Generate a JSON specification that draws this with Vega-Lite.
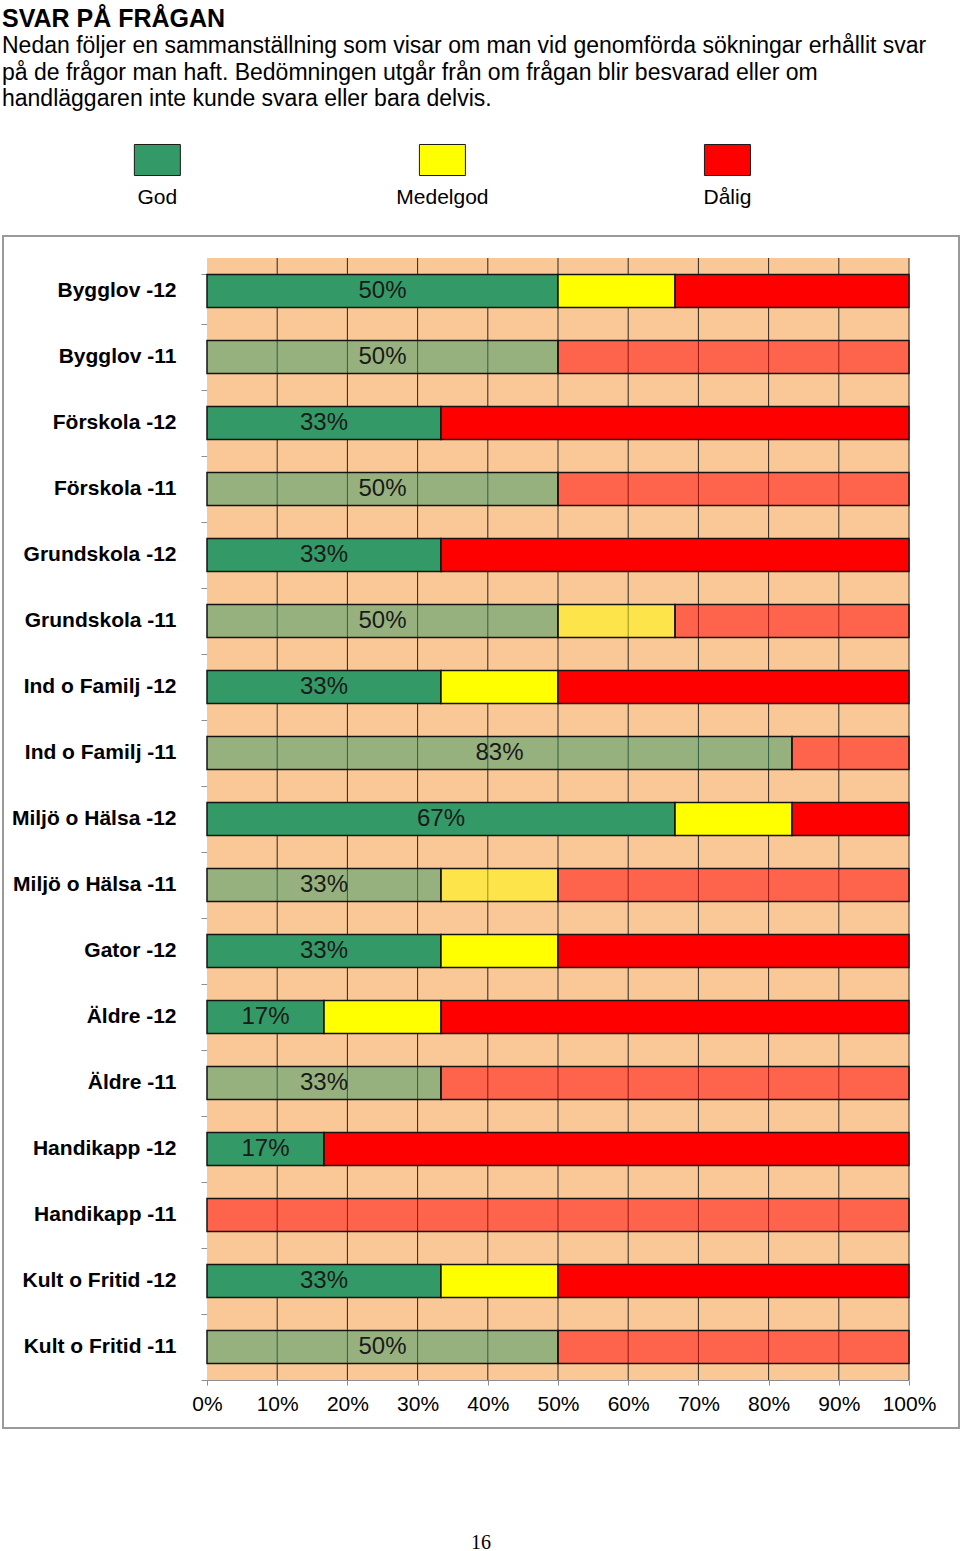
{
  "$schema": "https://vega.github.io/schema/vega-lite/v6.json",
  "padding": {"left": 2, "top": 7, "right": 0, "bottom": 0},
  "background": "white",
  "datasets": {
    "svar": [
      {"avd": "Bygglov -12", "ar": "-12", "svar": "God", "andel": 0.5, "ordning": 1},
      {"avd": "Bygglov -12", "ar": "-12", "svar": "Medelgod", "andel": 0.1667, "ordning": 2},
      {"avd": "Bygglov -12", "ar": "-12", "svar": "Dålig", "andel": 0.3333, "ordning": 3},
      {"avd": "Bygglov -11", "ar": "-11", "svar": "God", "andel": 0.5, "ordning": 1},
      {"avd": "Bygglov -11", "ar": "-11", "svar": "Medelgod", "andel": 0, "ordning": 2},
      {"avd": "Bygglov -11", "ar": "-11", "svar": "Dålig", "andel": 0.5, "ordning": 3},
      {"avd": "Förskola -12", "ar": "-12", "svar": "God", "andel": 0.3333, "ordning": 1},
      {"avd": "Förskola -12", "ar": "-12", "svar": "Medelgod", "andel": 0, "ordning": 2},
      {"avd": "Förskola -12", "ar": "-12", "svar": "Dålig", "andel": 0.6667, "ordning": 3},
      {"avd": "Förskola -11", "ar": "-11", "svar": "God", "andel": 0.5, "ordning": 1},
      {"avd": "Förskola -11", "ar": "-11", "svar": "Medelgod", "andel": 0, "ordning": 2},
      {"avd": "Förskola -11", "ar": "-11", "svar": "Dålig", "andel": 0.5, "ordning": 3},
      {"avd": "Grundskola -12", "ar": "-12", "svar": "God", "andel": 0.3333, "ordning": 1},
      {"avd": "Grundskola -12", "ar": "-12", "svar": "Medelgod", "andel": 0, "ordning": 2},
      {"avd": "Grundskola -12", "ar": "-12", "svar": "Dålig", "andel": 0.6667, "ordning": 3},
      {"avd": "Grundskola -11", "ar": "-11", "svar": "God", "andel": 0.5, "ordning": 1},
      {"avd": "Grundskola -11", "ar": "-11", "svar": "Medelgod", "andel": 0.1667, "ordning": 2},
      {"avd": "Grundskola -11", "ar": "-11", "svar": "Dålig", "andel": 0.3333, "ordning": 3},
      {"avd": "Ind o Familj -12", "ar": "-12", "svar": "God", "andel": 0.3333, "ordning": 1},
      {"avd": "Ind o Familj -12", "ar": "-12", "svar": "Medelgod", "andel": 0.1667, "ordning": 2},
      {"avd": "Ind o Familj -12", "ar": "-12", "svar": "Dålig", "andel": 0.5, "ordning": 3},
      {"avd": "Ind o Familj -11", "ar": "-11", "svar": "God", "andel": 0.8333, "ordning": 1},
      {"avd": "Ind o Familj -11", "ar": "-11", "svar": "Medelgod", "andel": 0, "ordning": 2},
      {"avd": "Ind o Familj -11", "ar": "-11", "svar": "Dålig", "andel": 0.1667, "ordning": 3},
      {"avd": "Miljö o Hälsa -12", "ar": "-12", "svar": "God", "andel": 0.6667, "ordning": 1},
      {"avd": "Miljö o Hälsa -12", "ar": "-12", "svar": "Medelgod", "andel": 0.1667, "ordning": 2},
      {"avd": "Miljö o Hälsa -12", "ar": "-12", "svar": "Dålig", "andel": 0.1666, "ordning": 3},
      {"avd": "Miljö o Hälsa -11", "ar": "-11", "svar": "God", "andel": 0.3333, "ordning": 1},
      {"avd": "Miljö o Hälsa -11", "ar": "-11", "svar": "Medelgod", "andel": 0.1667, "ordning": 2},
      {"avd": "Miljö o Hälsa -11", "ar": "-11", "svar": "Dålig", "andel": 0.5, "ordning": 3},
      {"avd": "Gator -12", "ar": "-12", "svar": "God", "andel": 0.3333, "ordning": 1},
      {"avd": "Gator -12", "ar": "-12", "svar": "Medelgod", "andel": 0.1667, "ordning": 2},
      {"avd": "Gator -12", "ar": "-12", "svar": "Dålig", "andel": 0.5, "ordning": 3},
      {"avd": "Äldre -12", "ar": "-12", "svar": "God", "andel": 0.1667, "ordning": 1},
      {"avd": "Äldre -12", "ar": "-12", "svar": "Medelgod", "andel": 0.1667, "ordning": 2},
      {"avd": "Äldre -12", "ar": "-12", "svar": "Dålig", "andel": 0.6666, "ordning": 3},
      {"avd": "Äldre -11", "ar": "-11", "svar": "God", "andel": 0.3333, "ordning": 1},
      {"avd": "Äldre -11", "ar": "-11", "svar": "Medelgod", "andel": 0, "ordning": 2},
      {"avd": "Äldre -11", "ar": "-11", "svar": "Dålig", "andel": 0.6667, "ordning": 3},
      {"avd": "Handikapp -12", "ar": "-12", "svar": "God", "andel": 0.1667, "ordning": 1},
      {"avd": "Handikapp -12", "ar": "-12", "svar": "Medelgod", "andel": 0, "ordning": 2},
      {"avd": "Handikapp -12", "ar": "-12", "svar": "Dålig", "andel": 0.8333, "ordning": 3},
      {"avd": "Handikapp -11", "ar": "-11", "svar": "God", "andel": 0, "ordning": 1},
      {"avd": "Handikapp -11", "ar": "-11", "svar": "Medelgod", "andel": 0, "ordning": 2},
      {"avd": "Handikapp -11", "ar": "-11", "svar": "Dålig", "andel": 1, "ordning": 3},
      {"avd": "Kult o Fritid -12", "ar": "-12", "svar": "God", "andel": 0.3333, "ordning": 1},
      {"avd": "Kult o Fritid -12", "ar": "-12", "svar": "Medelgod", "andel": 0.1667, "ordning": 2},
      {"avd": "Kult o Fritid -12", "ar": "-12", "svar": "Dålig", "andel": 0.5, "ordning": 3},
      {"avd": "Kult o Fritid -11", "ar": "-11", "svar": "God", "andel": 0.5, "ordning": 1},
      {"avd": "Kult o Fritid -11", "ar": "-11", "svar": "Medelgod", "andel": 0, "ordning": 2},
      {"avd": "Kult o Fritid -11", "ar": "-11", "svar": "Dålig", "andel": 0.5, "ordning": 3}
    ],
    "rutnat": [
      {"t": 0.1}, {"t": 0.2}, {"t": 0.3}, {"t": 0.4}, {"t": 0.5},
      {"t": 0.6}, {"t": 0.7}, {"t": 0.8}, {"t": 0.9}, {"t": 1.0}
    ],
    "forklaring": [{"svar": "God"}, {"svar": "Medelgod"}, {"svar": "Dålig"}],
    "sidfot": [{"sida": "16"}]
  },
  "title": {
    "text": "SVAR PÅ FRÅGAN",
    "subtitle": [
      "Nedan följer en sammanställning som visar om man vid genomförda sökningar erhållit svar",
      "på de frågor man haft. Bedömningen utgår från om frågan blir besvarad eller om",
      "handläggaren inte kunde svara eller bara delvis."
    ],
    "anchor": "start",
    "font": "Liberation Sans",
    "fontSize": 25,
    "fontWeight": "bold",
    "color": "black",
    "subtitleFont": "Liberation Sans",
    "subtitleFontSize": 23,
    "subtitleColor": "black",
    "subtitleLineHeight": 26.5,
    "subtitlePadding": 3,
    "offset": 19
  },
  "config": {
    "view": {"stroke": null},
    "font": "Liberation Sans",
    "axisX": {
      "offset": -48,
      "grid": false,
      "domainColor": "#8c8c8c",
      "tickColor": "#8c8c8c",
      "tickSize": 5,
      "labelFontSize": 21,
      "labelColor": "black",
      "labelPadding": 8,
      "labelFlush": false
    },
    "axisY": {
      "offset": -204,
      "grid": false,
      "domainColor": "#8c8c8c",
      "tickColor": "#8c8c8c",
      "tickSize": 6,
      "bandPosition": 1.5,
      "tickExtra": true,
      "labelFontSize": 21,
      "labelFontWeight": "bold",
      "labelColor": "black",
      "labelPadding": 25
    }
  },
  "spacing": 104,
  "vconcat": [
    {
      "spacing": 16,
      "vconcat": [
        {
          "width": 956,
          "height": 60,
          "data": {"name": "forklaring"},
          "layer": [
            {
              "mark": {"type": "point", "shape": "M-1,-0.674H1V0.674H-1Z", "size": 2116, "filled": true, "opacity": 1, "stroke": "#1a1a1a", "strokeWidth": 1},
              "encoding": {
                "x": {"field": "svar", "type": "nominal", "sort": ["God", "Medelgod", "Dålig"], "scale": {"type": "point", "padding": 0.677, "align": 0.4}, "axis": null},
                "color": {"field": "svar", "type": "nominal", "scale": {"domain": ["God", "Medelgod", "Dålig"], "range": ["#339966", "#FFFF00", "#FF0000"]}, "legend": null}
              }
            },
            {
              "mark": {"type": "text", "dy": 38, "fontSize": 21, "color": "black"},
              "encoding": {
                "x": {"field": "svar", "type": "nominal", "sort": ["God", "Medelgod", "Dålig"], "scale": {"type": "point", "padding": 0.677, "align": 0.4}, "axis": null},
                "text": {"field": "svar", "type": "nominal"}
              }
            }
          ]
        },
        {
          "width": 956,
          "height": 1192,
          "view": {"stroke": "#9a9a9a", "strokeWidth": 2, "fill": "white"},
          "data": {"name": "svar"},
          "resolve": {"scale": {"x": "independent"}},
          "layer": [
            {
              "layer": [
                {
                  "transform": [{"filter": "datum.svar === 'God'"}],
                  "mark": {"type": "bar", "color": "#FAC896", "height": {"band": 2}},
                  "encoding": {
                    "y": {"field": "avd", "type": "nominal", "title": null,
                      "scale": {"domain": ["Bygglov -12", "Bygglov -11", "Förskola -12", "Förskola -11", "Grundskola -12", "Grundskola -11", "Ind o Familj -12", "Ind o Familj -11", "Miljö o Hälsa -12", "Miljö o Hälsa -11", "Gator -12", "Äldre -12", "Äldre -11", "Handikapp -12", "Handikapp -11", "Kult o Fritid -12", "Kult o Fritid -11"],
                        "range": [22, 1144], "paddingInner": 0.5, "paddingOuter": 0.25}},
                    "x": {"datum": 0, "type": "quantitative", "scale": {"domain": [0, 1], "range": [204, 906]}, "title": null},
                    "x2": {"datum": 1}
                  }
                },
                {
                  "data": {"name": "rutnat"},
                  "mark": {"type": "rule", "color": "#262626", "strokeWidth": 1, "yOffset": -33, "y2Offset": 33},
                  "encoding": {
                    "x": {"field": "t", "type": "quantitative", "title": null},
                    "y": {"datum": "Bygglov -12", "type": "nominal"},
                    "y2": {"datum": "Kult o Fritid -11"}
                  }
                },
                {
                  "transform": [{"filter": "datum.andel > 0"}],
                  "mark": {"type": "bar", "stroke": "#141414", "strokeWidth": 1.5},
                  "encoding": {
                    "y": {"field": "avd", "type": "nominal", "title": null},
                    "x": {"field": "andel", "type": "quantitative", "stack": "zero", "title": null,
                      "axis": {"values": [0, 0.1, 0.2, 0.3, 0.4, 0.5, 0.6, 0.7, 0.8, 0.9, 1], "format": ".0%"}},
                    "order": {"field": "ordning", "type": "quantitative"},
                    "color": {"field": "svar", "type": "nominal", "scale": {"domain": ["God", "Medelgod", "Dålig"], "range": ["#339966", "#FFFF00", "#FF0000"]}, "legend": null},
                    "fillOpacity": {"field": "ar", "type": "nominal", "scale": {"domain": ["-12", "-11"], "range": [1, 0.5]}, "legend": null}
                  }
                }
              ]
            },
            {
              "transform": [{"filter": "datum.svar === 'God' && datum.andel > 0"}],
              "mark": {"type": "text", "fontSize": 24, "color": "#1a1a1a"},
              "encoding": {
                "x": {"field": "andel", "type": "quantitative", "scale": {"domain": [0, 2], "range": [204, 906]}, "axis": null},
                "y": {"field": "avd", "type": "nominal", "title": null},
                "text": {"field": "andel", "type": "quantitative", "format": ".0%"}
              }
            }
          ]
        }
      ]
    },
    {
      "width": 956,
      "height": 16,
      "data": {"name": "sidfot"},
      "mark": {"type": "text", "font": "Liberation Serif", "fontSize": 20, "color": "black"},
      "encoding": {"text": {"field": "sida", "type": "nominal"}}
    }
  ]
}
